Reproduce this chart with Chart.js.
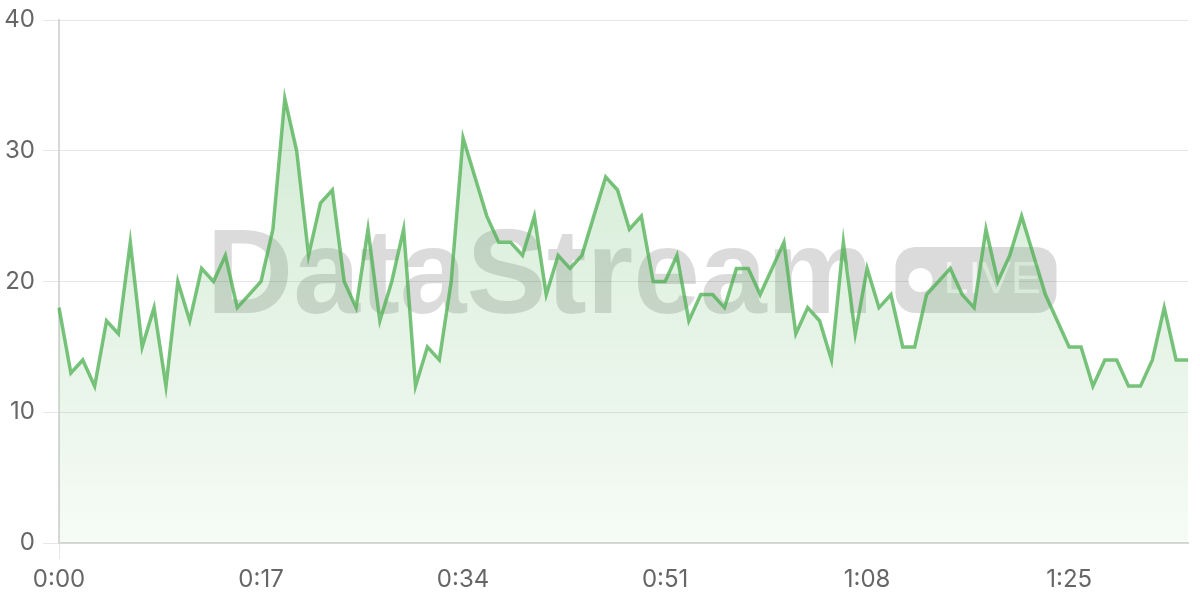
<!DOCTYPE html>
<html lang="en">
<head>
  <meta charset="UTF-8">
  <title>DataStream live</title>
  <script src="https://cdn.jsdelivr.net/npm/chart.js"></script>
  <style>
    html, body { margin: 0; padding: 0; background: #fff; }
    #wrap { width: 1200px; height: 600px; }
  </style>
</head>
<body>
<div id="wrap"><canvas id="chart-canvas"></canvas></div>

<script>
// one sample per second, 0:00 .. 1:35
const values = [
  18, 13, 14, 12, 17, 16, 23, 15, 18, 12,
  20, 17, 21, 20, 22, 18, 19, 20, 24, 34,
  30, 22, 26, 27, 20, 18, 24, 17, 20, 24,
  12, 15, 14, 20, 31, 28, 25, 23, 23, 22,
  25, 19, 22, 21, 22, 25, 28, 27, 24, 25,
  20, 20, 22, 17, 19, 19, 18, 21, 21, 19,
  21, 23, 16, 18, 17, 14, 23, 16, 21, 18,
  19, 15, 15, 19, 20, 21, 19, 18, 24, 20,
  22, 25, 22, 19, 17, 15, 15, 12, 14, 14,
  12, 12, 14, 18, 14, 14
];
const tickLabels = ['0:00', '0:17', '0:34', '0:51', '1:08', '1:25'];
const yTicks = [0, 10, 20, 30, 40];

function fmtTime(sec) {
  const m = Math.floor(sec / 60);
  const s = sec % 60;
  return m + ':' + String(s).padStart(2, '0');
}
const labels = values.map((v, i) => fmtTime(i));

const GRID = '#e6e6e6';
const BORDER = '#d8d8d8';

// gray "DataStream  (• LIVE)" mark behind the line
const watermark = {
  id: 'watermark',
  beforeDatasetsDraw(chart) {
    const { ctx, chartArea } = chart;
    const cx = (chartArea.left + chartArea.right) / 2 + 8;
    const cy = (chartArea.top + chartArea.bottom) / 2;
    ctx.save();
    ctx.font = 'bold 120px "Liberation Sans", Arial, sans-serif';
    const tw = ctx.measureText('DataStream').width;
    const gap = 22, pw = 161, ph = 66;
    const x0 = cx - (tw + gap + pw) / 2;
    const base = cy + 31.5;
    ctx.fillStyle = 'rgba(0,0,0,0.14)';
    ctx.textBaseline = 'alphabetic';
    ctx.fillText('DataStream', x0, base);

    const px = x0 + tw + gap, py = base - ph;
    ctx.beginPath();
    ctx.roundRect(px, py, pw, ph, 20);
    ctx.fill();

    ctx.fillStyle = 'rgba(255,255,255,0.95)';
    ctx.beginPath();
    ctx.arc(px + 25, py + ph / 2, 12, 0, Math.PI * 2);
    ctx.fill();

    ctx.fillStyle = 'rgba(255,255,255,0.65)';
    ctx.font = '45px "Liberation Sans", Arial, sans-serif';
    ctx.textBaseline = 'middle';
    ctx.fillText('LIVE', px + 48, py + ph / 2 + 1);
    ctx.restore();
  }
};

function areaFill(context) {
  const { ctx, chartArea } = context.chart;
  if (!chartArea) return 'rgba(76,175,80,0.15)';
  const g = ctx.createLinearGradient(0, chartArea.top, 0, chartArea.bottom);
  g.addColorStop(0, 'rgba(76,175,80,0.28)');
  g.addColorStop(1, 'rgba(76,175,80,0.05)');
  return g;
}

const tickFont = { family: 'Inter, "Noto Sans", sans-serif', size: 24 };

new Chart(document.getElementById('chart-canvas'), {
  type: 'line',
  data: {
    labels: labels,
    datasets: [{
      data: values,
      borderColor: 'rgba(76,175,80,0.75)',
      borderWidth: 3.5,
      backgroundColor: areaFill,
      fill: 'origin',
      pointRadius: 0,
      tension: 0
    }]
  },
  plugins: [watermark],
  options: {
    responsive: true,
    maintainAspectRatio: false,
    animation: false,
    layout: { padding: { top: 0, left: 0, right: 12, bottom: 0 } },
    plugins: {
      legend: { display: false },
      tooltip: { enabled: false }
    },
    scales: {
      x: {
        offset: false,
        afterFit: axis => { axis.height = 57; },
        grid: {
          color: ctx => tickLabels.includes(labels[ctx.index]) ? GRID : 'transparent',
          tickLength: 16
        },
        border: { color: BORDER, width: 2 },
        ticks: {
          autoSkip: false,
          maxRotation: 0,
          color: '#666',
          font: tickFont,
          padding: 6,
          callback: (v, i) => tickLabels.includes(labels[i]) ? labels[i] : null
        }
      },
      y: {
        min: yTicks[0],
        max: yTicks[yTicks.length - 1],
        afterFit: axis => {
          axis.width = 59;
          axis.paddingTop = 20;
          axis.paddingBottom = 0;
        },
        grid: { color: GRID, tickLength: 16 },
        border: { color: BORDER, width: 2 },
        afterBuildTicks: axis => { axis.ticks = yTicks.map(v => ({ value: v })); },
        ticks: {
          color: '#666',
          font: tickFont,
          padding: 8
        }
      }
    }
  }
});
</script>
</body>
</html>
